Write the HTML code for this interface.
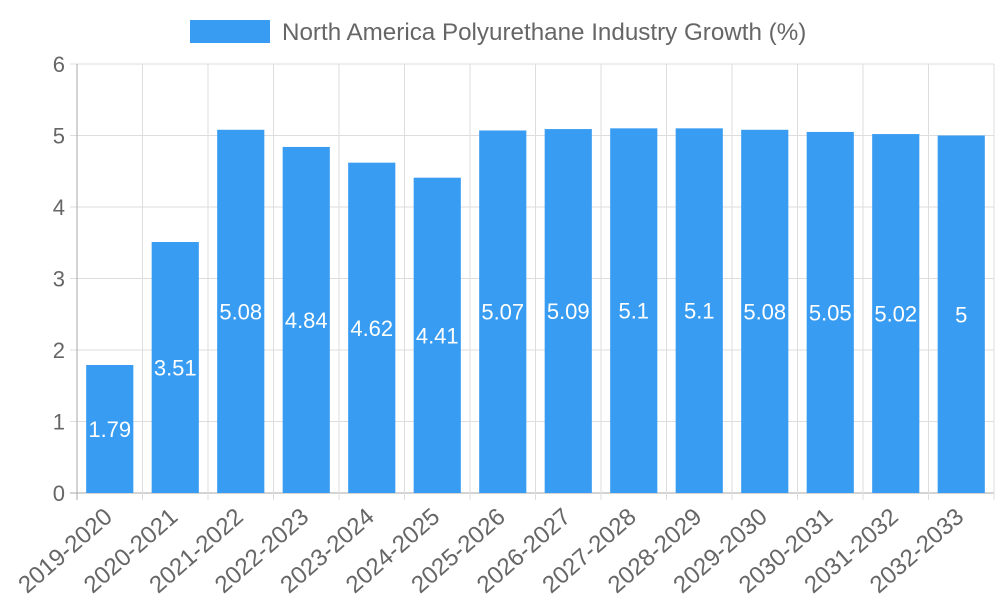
<!DOCTYPE html>
<html><head><meta charset="utf-8"><style>
body{margin:0;background:#fff;}
svg{display:block;font-family:"Liberation Sans",sans-serif;}
</style></head><body>
<svg id="chart" width="1000" height="600">
<rect x="190" y="20" width="80" height="23" fill="#389cf2"/>
<text x="282" y="40" font-size="24.2" fill="#666">North America Polyurethane Industry Growth (%)</text>
<g id="grid"></g><g id="bars"></g><g id="labels"></g>
</svg>
<script>
const categories=["2019-2020","2020-2021","2021-2022","2022-2023","2023-2024","2024-2025","2025-2026","2026-2027","2027-2028","2028-2029","2029-2030","2030-2031","2031-2032","2032-2033"];
const values=[1.79,3.51,5.08,4.84,4.62,4.41,5.07,5.09,5.1,5.1,5.08,5.05,5.02,5];
const valueLabels=["1.79","3.51","5.08","4.84","4.62","4.41","5.07","5.09","5.1","5.1","5.08","5.05","5.02","5"];
const yTicks=[0,1,2,3,4,5,6];
const NS="http://www.w3.org/2000/svg";
const L=77,R=994,T=64,B=493,yMax=6;
const bw=(R-L)/categories.length;
const y=v=>B-(v/yMax)*(B-T);
const x=i=>L+i*bw;
function mk(tag,attrs,parent){const e=document.createElementNS(NS,tag);for(const k in attrs)e.setAttribute(k,attrs[k]);document.getElementById(parent).appendChild(e);return e;}
yTicks.forEach(t=>{
  const g=mk('line',{x1:L-7,x2:R,y1:y(t),y2:y(t),stroke:t===0?'#aaa':'#ddd','stroke-width':1},'grid');
  
  
  const tx=mk('text',{x:L-12,y:y(t)+8,'text-anchor':'end','font-size':22,fill:'#666'},'labels');
  tx.textContent=t;
  
  
});
for(let i=0;i<=categories.length;i++){
  const g=mk('line',{x1:x(i),x2:x(i),y1:T,y2:B+7,stroke:i===0?'#aaa':'#ddd','stroke-width':1},'grid');
  
  
}
categories.forEach((c,i)=>{
  const bx=x(i)+bw*0.14,w=bw*0.72,top=y(values[i]);
  const r=mk('rect',{x:bx,y:top,width:w,height:B-top,fill:'#389cf2'},'bars');
  
  
  const v=mk('text',{x:bx+w/2,y:(top+B)/2+8,'text-anchor':'middle','font-size':22,fill:'#fff'},'labels');
  v.textContent=valueLabels[i];
  
  
  const cx=x(i)+bw/2+4,cy=B+26;
  const t=mk('text',{x:cx,y:cy,'text-anchor':'end','font-size':24,fill:'#666',transform:`rotate(-41 ${cx} ${cy})`},'labels');
  t.textContent=c;
  
  
});
</script>
</body></html>
